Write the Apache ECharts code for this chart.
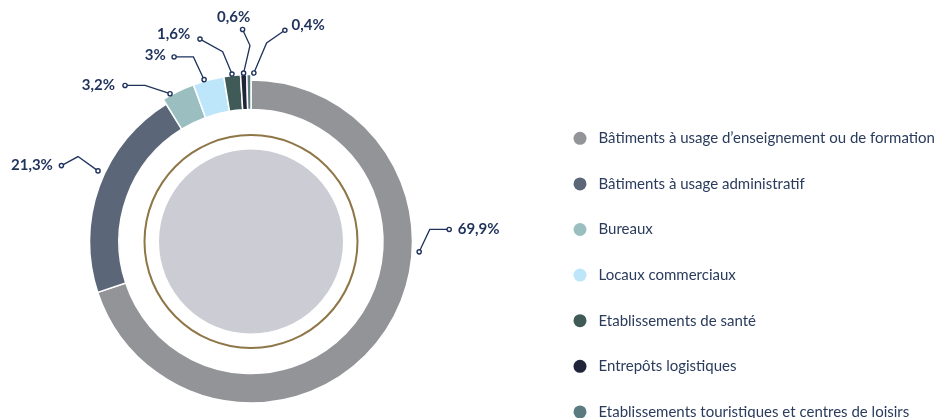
<!DOCTYPE html>
<html>
<head>
<meta charset="utf-8">
<script src="https://cdn.jsdelivr.net/npm/echarts@6/dist/echarts.min.js"></script>
<style>
  html, body { margin: 0; padding: 0; background: #fff; }
  #chart { width: 941px; height: 418px; }
</style>
</head>
<body>
<div id="chart"></div>
<script>
  const categories = [
    'Bâtiments à usage d’enseignement ou de formation',
    'Bâtiments à usage administratif',
    'Bureaux',
    'Locaux commerciaux',
    'Etablissements de santé',
    'Entrepôts logistiques',
    'Etablissements touristiques et centres de loisirs',
  ];
  const shares = [69.9, 21.3, 3.2, 3, 1.6, 0.6, 0.4];
  const shareLabels = ['69,9%', '21,3%', '3,2%', '3%', '1,6%', '0,6%', '0,4%'];

  const colors = ['#939498', '#5b6779', '#9bbfc0', '#bee6fb', '#3f5a57', '#1f2439', '#5a7b80'];
  const navy = '#1e325c';
  const center = [251, 241.5];
  const anchorR = 168.5;

  // leader line tweaks: angle shift from slice middle (deg), two legs (px), label offset from line end
  const leaders = [
    { shift: -32.3, leg1: [10.6, -22.4], leg2: [19.4, 0], align: 'left', tx: 8.5, ty: 0 },
    { shift: 4.8, leg1: [-20, -14.3], leg2: [-16.6, 9], align: 'right', tx: -8.5, ty: 0 },
    { shift: -2.8, leg1: [-25, -8.3], leg2: [-20, 0], align: 'right', tx: -10, ty: 0 },
    { shift: -1.4, leg1: [-10.7, -22.7], leg2: [-19.3, 0], align: 'right', tx: -8.3, ty: -2 },
    { shift: 0, leg1: [-9.3, -22.4], leg2: [-22.7, -12.6], align: 'right', tx: -9.7, ty: -5.4 },
    { shift: 0, leg1: [6.4, -27.7], leg2: [-7.4, -16], align: 'center', tx: -9, ty: -12.3 },
    { shift: 1.7, leg1: [12.7, -30], leg2: [18.3, -12.7], align: 'left', tx: 6.7, ty: -5 },
  ];

  const total = shares.reduce((a, b) => a + b, 0);
  let acc = 0;
  const geo = shares.map((v, i) => {
    const ang = ((acc + v / 2) / total * 360 + leaders[i].shift) * Math.PI / 180;
    acc += v;
    const a = [center[0] + anchorR * Math.sin(ang), center[1] - anchorR * Math.cos(ang)];
    const b = [a[0] + leaders[i].leg1[0], a[1] + leaders[i].leg1[1]];
    const c = [b[0] + leaders[i].leg2[0], b[1] + leaders[i].leg2[1]];
    return [a, b, c];
  });

  // first two slices sit on the thinner ring, the small ones stick out a bit
  const ringData = (wide) => categories.map((name, i) => ({
    name,
    value: shares[i],
    itemStyle: (i >= 2) === wide ? { color: colors[i] } : { color: 'transparent', borderWidth: 0 },
  }));

  const dots = [];
  geo.forEach((g) => {
    [g[0], g[2]].forEach((p) => {
      dots.push({
        type: 'circle',
        z: 100,
        silent: true,
        shape: { cx: p[0], cy: p[1], r: 2.1 },
        style: { fill: '#ffffff', stroke: navy, lineWidth: 1.4 },
      });
    });
  });

  const myChart = echarts.init(document.getElementById('chart'));
  const option = {
    animation: false,
    legend: {
      orient: 'vertical',
      left: 573.5,
      top: 130.8,
      height: 320,
      padding: 0,
      itemWidth: 13,
      itemHeight: 13,
      itemGap: 30.6,
      icon: 'circle',
      selectedMode: false,
      data: categories.map((name, i) => ({ name, itemStyle: { color: colors[i], borderWidth: 0 } })),
      textStyle: { color: '#2a3b5c', fontSize: 15, fontFamily: 'Lato', padding: [0, 0, 0, 7] },
    },
    graphic: dots,
    series: [
      {
        type: 'pie',
        silent: true,
        center,
        radius: [0, 92],
        label: { show: false },
        data: [{ name: 'fond', value: 1, itemStyle: { color: '#cccdd4' } }],
      },
      {
        type: 'pie',
        silent: true,
        center,
        radius: [105.5, 107.5],
        label: { show: false },
        data: [{ name: 'anneau', value: 1, itemStyle: { color: '#8e7647' } }],
      },
      {
        type: 'pie',
        silent: true,
        center,
        radius: [132, 161.5],
        startAngle: 90,
        clockwise: true,
        avoidLabelOverlap: false,
        itemStyle: { borderColor: '#ffffff', borderWidth: 1.5 },
        label: {
          show: true,
          position: 'outside',
          formatter: (p) => shareLabels[p.dataIndex],
          color: navy,
          fontSize: 15,
          fontWeight: 'bold',
          fontFamily: 'Lato',
        },
        labelLine: { show: true, lineStyle: { color: navy, width: 1.3 } },
        labelLayout(p) {
          const g = geo[p.dataIndex];
          const s = leaders[p.dataIndex];
          return {
            x: g[2][0] + s.tx,
            y: g[2][1] + s.ty,
            align: s.align,
            verticalAlign: 'middle',
            labelLinePoints: g,
          };
        },
        data: ringData(false),
      },
      {
        type: 'pie',
        silent: true,
        center,
        radius: [132, 167],
        startAngle: 90,
        clockwise: true,
        itemStyle: { borderColor: '#ffffff', borderWidth: 1.5 },
        label: { show: false },
        labelLine: { show: false },
        data: ringData(true),
      },
    ],
  };

  option && myChart.setOption(option);
</script>
</body>
</html>
